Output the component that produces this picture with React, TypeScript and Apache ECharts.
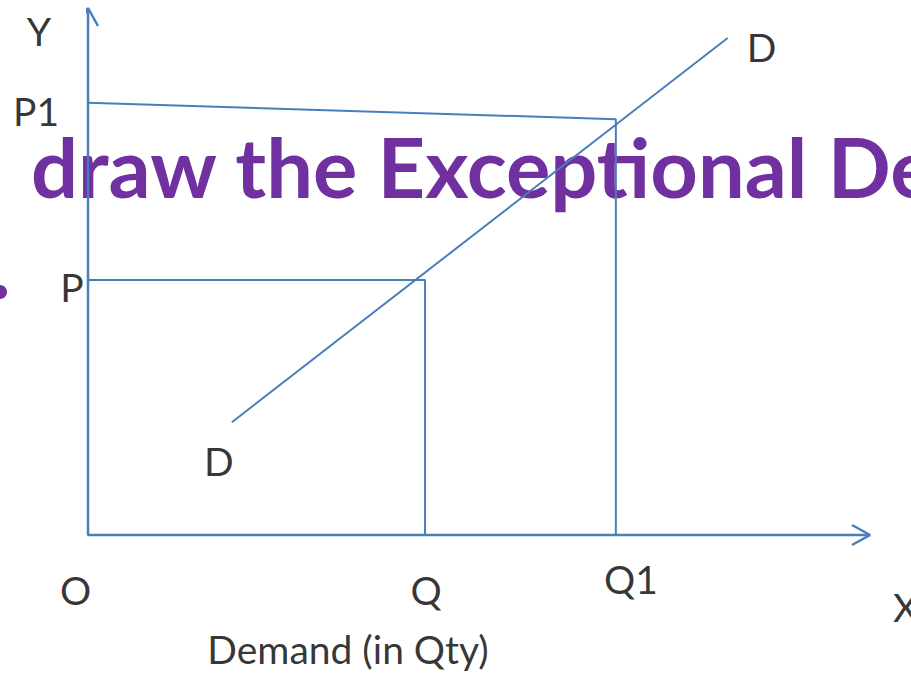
import React, { useEffect, useRef } from "react";
import * as echarts from "echarts";

// ---- data (chart units: both axes 0..100) ----
const axisMax = { x: 100, y: 100 };
const qtyLabels = ["O", "Q", "Q1"];
const qtyValues = [0, 43.1, 67.5];
const priceLabels = ["P", "P1"];
const priceValues = [48.4, 82.0];
const priceP1AtQ1 = 78.9;
const demandX = [18.4, 81.8];
const demandY = [21.4, 94.3];
const demandLabel = "D";
const axisNames = ["X", "Y"];
const xAxisTitle = "Demand (in Qty)";
const headline = "draw the Exceptional De";

const W = 911;
const H = 677;
const GRID = { left: 88, right: 41, top: 8, bottom: 142 };
const BLUE = "#4A7EBB";
const PURPLE = "#7030A0";
const FONT = "Lato";

export default function App() {
  const ref = useRef<HTMLDivElement>(null);
  useEffect(() => {
    if (!ref.current) return;
    const chart = echarts.init(ref.current, null, { renderer: "svg" });

    const pxX = (W - GRID.left - GRID.right) / axisMax.x;
    const pxY = (H - GRID.top - GRID.bottom) / axisMax.y;
    // arrowheads (in px -> data units)
    const yArrow = { dx: 10 / pxX, dy: 18 / pxY };
    const xArrow = { dx: 18 / pxX, dy: 10 / pxY };

    const [Q0, Q, Q1] = qtyValues;
    const [P, P1] = priceValues;

    const lbl = (
      text: string,
      value: number[],
      offset: number[],
      align: string = "center"
    ) => ({
      value,
      label: {
        show: true,
        formatter: text,
        position: "inside",
        offset,
        align,
        verticalAlign: "middle",
        color: "#000",
        fontFamily: FONT,
        fontSize: 39,
      },
    });

    const labelData = [
      lbl(qtyLabels[0], [Q0, 0], [-12.5, 55]),
      lbl(qtyLabels[1], [Q, 0], [1, 55]),
      lbl(qtyLabels[2], [Q1, 0], [15, 44]),
      lbl(priceLabels[0], [0, P], [-16, 7]),
      lbl(priceLabels[1], [0, P1], [-52, 8]),
      lbl(demandLabel, [demandX[0], demandY[0]], [-13, 39]),
      lbl(demandLabel, [demandX[1], demandY[1]], [34, 9]),
      lbl(axisNames[1], [0, axisMax.y], [-49, 23]),
      lbl(axisNames[0], [axisMax.x, 0], [23, 72], "left"),
      lbl(xAxisTitle, [0, 0], [260, 114]),
    ];

    const lineSeries = (data: number[][], width = 2) => ({
      type: "line",
      data,
      symbol: "none",
      clip: false,
      silent: true,
      z: 3,
      lineStyle: { color: BLUE, width },
    });

    chart.setOption({
      animation: false,
      grid: { ...GRID, containLabel: false },
      xAxis: { type: "value", min: 0, max: axisMax.x, show: false },
      yAxis: { type: "value", min: 0, max: axisMax.y, show: false },
      graphic: [
        {
          type: "text",
          x: 31,
          y: 166,
          z: 0,
          style: {
            text: headline,
            fill: PURPLE,
            font: `bold 83px ${FONT}`,
            verticalAlign: "middle",
            align: "left",
          },
        },
        {
          type: "circle",
          shape: { cx: 0, cy: 292, r: 7 },
          style: { fill: PURPLE },
          z: 0,
        },
      ],
      series: [
        lineSeries(
          [
            [0, axisMax.y],
            [0, 0],
            [axisMax.x, 0],
          ],
          2.5
        ),
        lineSeries(
          [
            [-yArrow.dx, axisMax.y - yArrow.dy],
            [0, axisMax.y],
            [yArrow.dx, axisMax.y - yArrow.dy],
          ],
          2.5
        ),
        lineSeries(
          [
            [axisMax.x - xArrow.dx, xArrow.dy],
            [axisMax.x, 0],
            [axisMax.x - xArrow.dx, -xArrow.dy],
          ],
          2.5
        ),
        lineSeries([
          [0, P],
          [Q, P],
          [Q, 0],
        ]),
        lineSeries([
          [0, P1],
          [Q1, priceP1AtQ1],
          [Q1, 0],
        ]),
        lineSeries([
          [demandX[0], demandY[0]],
          [demandX[1], demandY[1]],
        ]),
        {
          type: "scatter",
          data: labelData,
          symbolSize: 1,
          clip: false,
          silent: true,
          itemStyle: { color: "transparent" },
          z: 4,
        },
      ],
    });
    return () => chart.dispose();
  }, []);

  return (
    <div
      ref={ref}
      style={{
        position: "absolute",
        left: 0,
        top: 0,
        width: W,
        height: H,
        background: "#fff",
      }}
    />
  );
}
